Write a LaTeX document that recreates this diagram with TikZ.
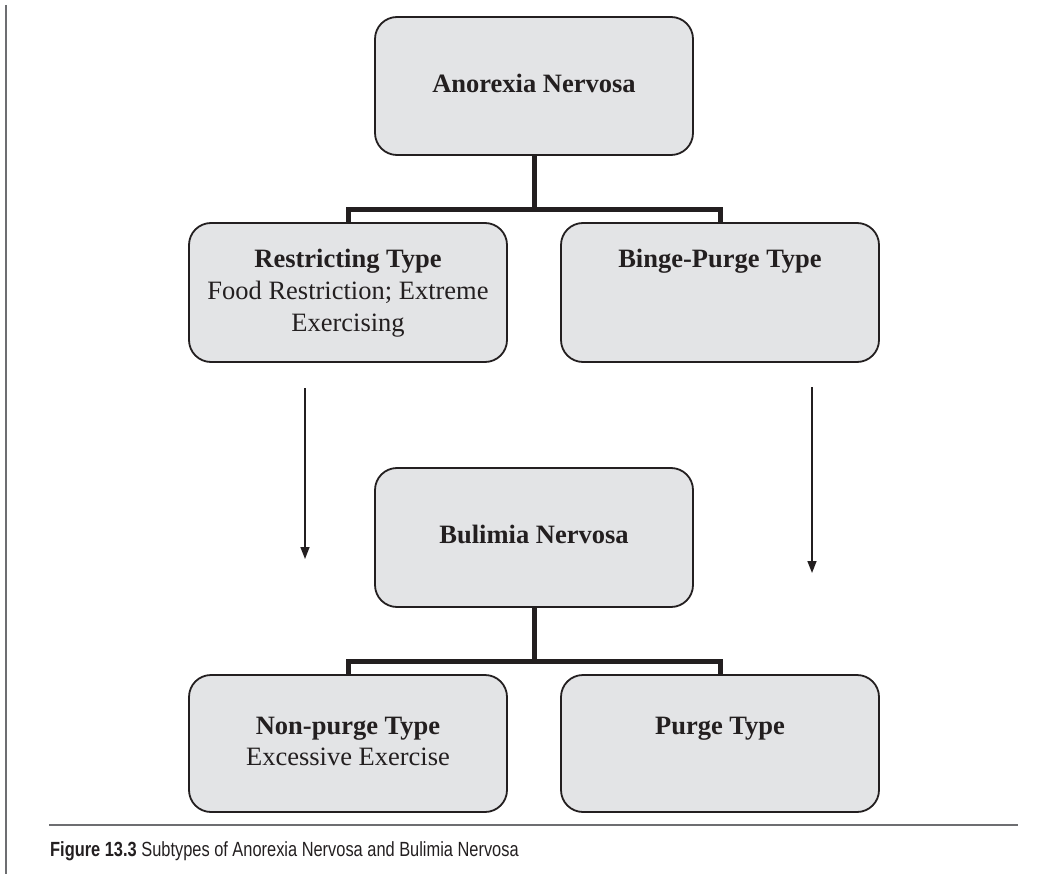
\documentclass[tikz,border=0pt]{standalone}
\usepackage{fontspec}
\setmainfont{Liberation Serif}
\newfontfamily\capfont[FakeStretch=0.8]{Liberation Sans}
\usetikzlibrary{arrows.meta}
\definecolor{boxfill}{HTML}{E3E4E6}
\definecolor{ink}{HTML}{231F20}
\definecolor{rulegray}{HTML}{6D6E71}
\begin{document}
\begin{tikzpicture}[x=1pt,y=-1pt,
  box/.style={draw=ink, line width=1.8pt, fill=boxfill, rounded corners=22pt, minimum width=318pt, inner sep=0pt},
  lbl/.style={anchor=base, inner sep=0pt, font=\fontsize{26.5}{31}\selectfont, text=ink},
  blbl/.style={anchor=base, inner sep=0pt, font=\fontsize{26.5}{31}\selectfont\bfseries, text=ink},
  conn/.style={draw=ink, line width=5pt, line join=miter},
  arr/.style={draw=ink, line width=1.5pt, -{Triangle[length=12pt,width=9pt]}},
  rulestyle/.style={draw=rulegray, line width=1.8pt},
]
\useasboundingbox (0,0) rectangle (1059,874);
% frame rules
\coordinate (lt) at (5.7,5);
\coordinate (lb) at (5.7,874);
\draw[rulestyle, line width=2pt] (lt) -- (lb);
\coordinate (r1) at (49,825);
\coordinate (r2) at (1018,825);
\draw[rulestyle] (r1) -- (r2);
% boxes
\node[box, minimum height=138pt] (anb) at (534,86) {};
\node[box, minimum height=139pt] (rst) at (348,292.5) {};
\node[box, minimum height=139pt] (bpt) at (720,292.5) {};
\node[box, minimum height=139pt] (bul) at (534,537.5) {};
\node[box, minimum height=137pt] (npt) at (348,743.5) {};
\node[box, minimum height=137pt] (pgt) at (720,743.5) {};
% texts
\node[blbl] (tanb) at (534,93) {Anorexia Nervosa};
\node[blbl] (trst) at (348,268) {Restricting Type};
\node[lbl] (trst2) at (348,300) {Food Restriction; Extreme};
\node[lbl] (trst3) at (348,331) {Exercising};
\node[blbl] (tbpt) at (720,268) {Binge-Purge Type};
\node[blbl] (tbul) at (534,543) {Bulimia Nervosa};
\node[blbl] (tnpt) at (348,734) {Non-purge Type};
\node[lbl] (tnpt2) at (348,765) {Excessive Exercise};
\node[blbl] (tpgt) at (720,734) {Purge Type};
% connectors
\coordinate (j1) at (534,210);
\draw[conn] (anb.south) -- (j1);
\draw[conn] (rst.north) |- (j1) -| (bpt.north);
\coordinate (j2) at (534,661);
\draw[conn] (bul.south) -- (j2);
\draw[conn] (npt.north) |- (j2) -| (pgt.north);
% arrows
\coordinate (a1s) at (305,388);
\coordinate (a1e) at (305,559);
\coordinate (a2s) at (812,387);
\coordinate (a2e) at (812,573);
\draw[arr] (a1s) -- (a1e);
\draw[arr] (a2s) -- (a2e);
% caption
\node[anchor=base west, inner sep=0pt, font=\capfont\fontsize{20.5}{22}\selectfont, text=ink] (cap) at (50,856) {\textbf{Figure 13.3} Subtypes of Anorexia Nervosa and Bulimia Nervosa};
\end{tikzpicture}
\end{document}
